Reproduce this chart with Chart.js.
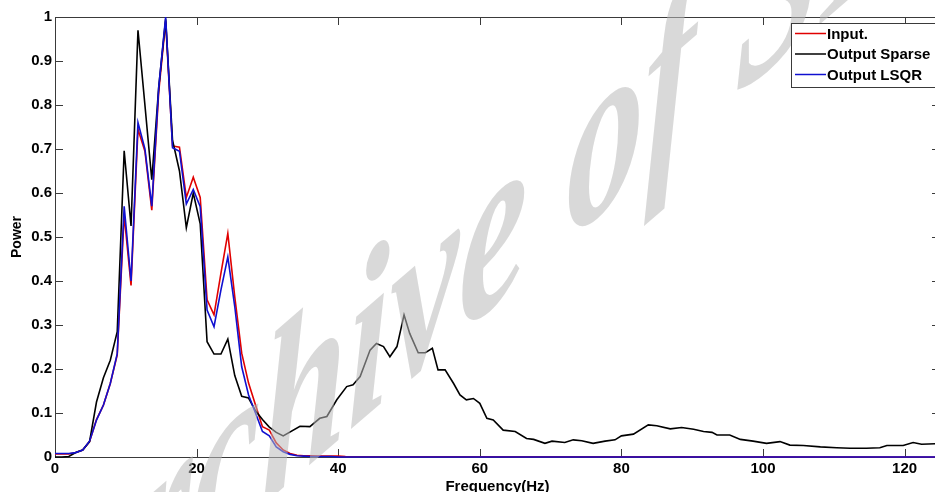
<!DOCTYPE html>
<html lang="en">
<head>
  <meta charset="UTF-8">
  <title>Power spectrum</title>
  <script src="https://cdn.jsdelivr.net/npm/chart.js"></script>
  <style>
    html, body {
      margin: 0;
      padding: 0;
      overflow: hidden;
      background: #fff;
    }
    #chart-container {
      width: 945px;
      height: 496px;
    }
  </style>
</head>
<body>
  <div id="chart-container">
    <canvas id="myChart" width="945" height="496"></canvas>
  </div>

  <script>
  // Spectrum bins (Hz) for the input and LSQR curves
  const freqLow = [0, 0.98, 1.95, 2.93, 3.91, 4.88, 5.86, 6.84, 7.81, 8.79,
    9.77, 10.74, 11.72, 12.70, 13.67, 14.65, 15.63, 16.60, 17.58, 18.55,
    19.53, 20.51, 21.48, 22.46, 23.44, 24.41, 25.39, 26.37, 27.34, 28.32,
    29.30, 30.27, 31.25, 32.23, 33.20, 34.18, 35.16, 36.13, 37.11, 38.09,
    39.06, 40.04, 41.02, 125];

  const powerInput = [0.007, 0.007, 0.007, 0.010, 0.016, 0.035, 0.085, 0.118, 0.167, 0.232,
    0.55, 0.39, 0.745, 0.695, 0.561, 0.83, 0.99, 0.707, 0.704, 0.59,
    0.636, 0.59, 0.357, 0.323, 0.418, 0.508, 0.364, 0.236, 0.168, 0.118,
    0.069, 0.061, 0.032, 0.016, 0.008, 0.004, 0.003, 0.003, 0.002, 0.002,
    0.002, 0.002, 0.001, 0];

  const powerLsqr = [0.008, 0.008, 0.008, 0.010, 0.016, 0.036, 0.084, 0.118, 0.167, 0.235,
    0.57, 0.40, 0.76, 0.70, 0.57, 0.84, 1.0, 0.703, 0.695, 0.575,
    0.608, 0.569, 0.334, 0.296, 0.38, 0.455, 0.342, 0.205, 0.141, 0.10,
    0.058, 0.048, 0.023, 0.012, 0.006, 0.003, 0.002, 0.001, 0.001, 0.001,
    0.001, 0, 0, 0];

  // Sparse reconstruction keeps energy across the whole band
  const freqSparse = [0, 0.98, 1.95, 2.93, 3.91, 4.88, 5.86, 6.84, 7.81, 8.79,
    9.77, 10.74, 11.72, 12.70, 13.67, 14.65, 15.63, 16.60, 17.58, 18.55,
    19.53, 20.51, 21.48, 22.46, 23.44, 24.41, 25.39, 26.37, 27.34, 28.32,
    29.30, 30.27, 31.25, 32.23,
    34.6, 36.0, 37.4, 38.4, 39.8, 41.2, 42.1, 43.1, 44.5, 45.4,
    46.4, 47.3, 48.3, 49.3, 50.1, 51.3, 52.3, 53.3, 54.1, 55.1,
    56.3, 57.2, 58.1, 59.1, 60.0, 61.0, 61.9, 63.3, 65.0, 66.6,
    67.6, 69.2, 70.2, 72.0, 73.2, 74.4, 76.0, 77.7, 79.1, 80.0,
    81.7, 83.8, 85.0, 86.9, 88.5, 90.2, 91.6, 92.8, 93.5, 95.3,
    96.8, 98.6, 100.5, 102.4, 103.8, 105.7, 108.1, 110.4, 112.3, 114.6,
    116.5, 117.5, 119.8, 121.2, 122.4, 124.3, 125];

  const powerSparse = [0, 0, 0.001, 0.010, 0.016, 0.035, 0.125, 0.18, 0.22, 0.285,
    0.696, 0.525, 0.97, 0.80, 0.63, 0.84, 0.995, 0.72, 0.65, 0.521,
    0.60, 0.53, 0.262, 0.234, 0.234, 0.268, 0.185, 0.138, 0.134, 0.105,
    0.085, 0.068, 0.056, 0.048,
    0.070, 0.069, 0.088, 0.092, 0.13, 0.16, 0.164, 0.183, 0.243, 0.258,
    0.251, 0.228, 0.251, 0.323, 0.281, 0.237, 0.237, 0.247, 0.198, 0.198,
    0.167, 0.141, 0.13, 0.133, 0.122, 0.088, 0.084, 0.061, 0.058, 0.042,
    0.040, 0.031, 0.036, 0.033, 0.039, 0.037, 0.031, 0.036, 0.039, 0.048,
    0.052, 0.073, 0.071, 0.064, 0.067, 0.063, 0.058, 0.056, 0.050, 0.050,
    0.040, 0.036, 0.031, 0.035, 0.027, 0.026, 0.023, 0.021, 0.020, 0.020,
    0.021, 0.026, 0.026, 0.033, 0.029, 0.030, 0.030];

  const xTicks = [0, 20, 40, 60, 80, 100, 120];
  const seriesLabels = ['Input.', 'Output Sparse', 'Output LSQR'];

  const FONT = 'bold 15px "Liberation Sans", Arial, sans-serif';
  const AXIS_COLOR = '#3a3a3a';

  function toPoints(xs, ys) {
    return xs.map((x, i) => ({ x: x, y: ys[i] }));
  }

  // Box round the axes with inward tick marks on all four sides
  const axesBox = {
    id: 'axesBox',
    beforeDatasetsDraw(chart) {
      const { ctx, chartArea: a, scales } = chart;
      ctx.save();
      ctx.strokeStyle = AXIS_COLOR;
      ctx.lineWidth = 1;
      ctx.strokeRect(a.left + 0.5, a.top + 0.5, a.right - a.left, a.bottom - a.top);
      ctx.beginPath();
      scales.x.ticks.forEach(t => {
        const px = Math.round(scales.x.getPixelForValue(t.value)) + 0.5;
        ctx.moveTo(px, a.bottom); ctx.lineTo(px, a.bottom - 8);
        ctx.moveTo(px, a.top); ctx.lineTo(px, a.top + 8);
      });
      scales.y.ticks.forEach(t => {
        const py = Math.round(scales.y.getPixelForValue(t.value)) + 0.5;
        ctx.moveTo(a.left, py); ctx.lineTo(a.left + 8, py);
        ctx.moveTo(a.right, py); ctx.lineTo(a.right - 8, py);
      });
      ctx.stroke();
      ctx.restore();
    }
  };

  // Faint sheared watermark laid over the curves
  const watermark = {
    id: 'watermark',
    afterDatasetsDraw(chart) {
      const ctx = chart.ctx;
      ctx.save();
      ctx.transform(0.66, -0.57, 0, 1, 28, 708);
      ctx.font = 'italic bold 235px "Liberation Serif", "DejaVu Serif", serif';
      ctx.textAlign = 'left';
      ctx.textBaseline = 'alphabetic';
      ctx.fillStyle = 'rgba(185, 185, 185, 0.55)';
      ctx.fillText('Archive of SID', 0, 0);
      ctx.restore();
    }
  };

  // Boxed legend in the upper right corner, line sample left of each label
  const boxLegend = {
    id: 'boxLegend',
    afterDraw(chart) {
      const ctx = chart.ctx;
      const left = 791, top = 23, rowH = 20.5, width = 153;
      ctx.save();
      ctx.fillStyle = '#fff';
      ctx.strokeStyle = AXIS_COLOR;
      ctx.lineWidth = 1;
      ctx.fillRect(left, top, width, 64);
      ctx.strokeRect(left + 0.5, top + 0.5, width, 64);
      ctx.font = FONT;
      ctx.textBaseline = 'middle';
      chart.data.datasets.forEach((ds, i) => {
        const y = top + 10.5 + i * rowH;
        ctx.strokeStyle = ds.borderColor;
        ctx.lineWidth = 1.5;
        ctx.beginPath();
        ctx.moveTo(795, y);
        ctx.lineTo(826, y);
        ctx.stroke();
        ctx.fillStyle = '#000';
        ctx.fillText(ds.label, 827, y + 1);
      });
      ctx.restore();
    }
  };

  const tickFont = { family: '"Liberation Sans", Arial, sans-serif', size: 15, weight: 'bold' };

  const config = {
    type: 'line',
    data: {
      datasets: [
        {
          label: seriesLabels[0],
          data: toPoints(freqLow, powerInput),
          borderColor: '#e00000',
          order: 3
        },
        {
          label: seriesLabels[1],
          data: toPoints(freqSparse, powerSparse),
          borderColor: '#000000',
          order: 2
        },
        {
          label: seriesLabels[2],
          data: toPoints(freqLow, powerLsqr),
          borderColor: '#1010d0',
          order: 1
        }
      ]
    },
    options: {
      responsive: false,
      animation: false,
      devicePixelRatio: 1,
      layout: { padding: { top: 17, right: 5, left: 0, bottom: 0 } },
      elements: {
        point: { radius: 0 },
        line: { borderWidth: 1.6, tension: 0 }
      },
      datasets: { line: { clip: 4 } },
      plugins: {
        legend: { display: false },
        tooltip: { enabled: false }
      },
      scales: {
        x: {
          type: 'linear',
          min: 0,
          max: 125,
          afterBuildTicks: scale => {
            scale.ticks = xTicks.map(v => ({ value: v }));
          },
          afterFit: scale => { scale.height = 39; },
          grid: { display: false, drawTicks: false },
          border: { display: false },
          ticks: {
            color: '#000',
            font: tickFont,
            padding: 3,
            maxRotation: 0
          },
          title: {
            display: true,
            text: 'Frequency(Hz)',
            color: '#000',
            font: tickFont,
            padding: 0
          }
        },
        y: {
          min: 0,
          max: 1,
          afterFit: scale => { scale.width = 55; },
          grid: { display: false, drawTicks: false },
          border: { display: false },
          ticks: {
            stepSize: 0.1,
            color: '#000',
            font: tickFont,
            padding: 3,
            callback: v => Math.round(v * 10) / 10
          },
          title: {
            display: true,
            text: 'Power',
            color: '#000',
            font: { family: '"Liberation Sans", Arial, sans-serif', size: 14, weight: 'bold' },
            padding: { top: 9, bottom: 0 }
          }
        }
      }
    },
    plugins: [axesBox, watermark, boxLegend]
  };

  const chart = new Chart(document.getElementById('myChart'), config);
  </script>
</body>
</html>
